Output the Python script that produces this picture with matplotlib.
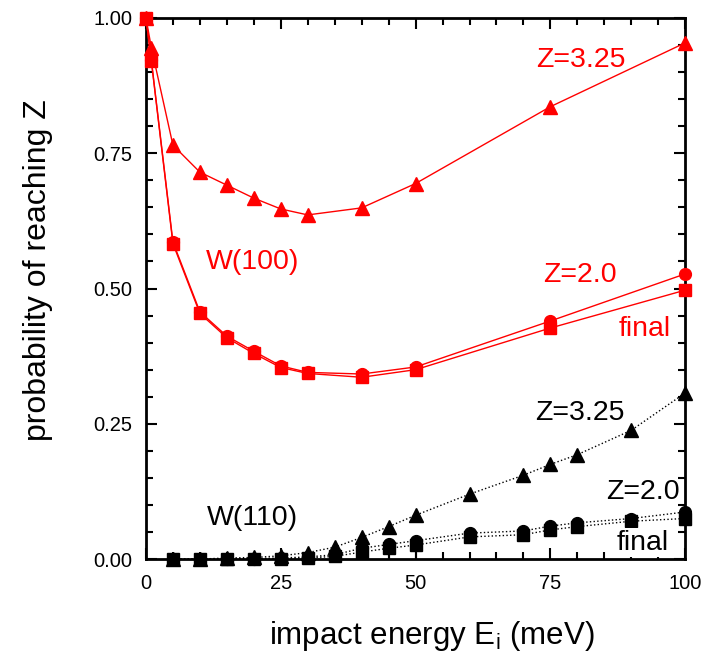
import numpy as np
import matplotlib.pyplot as plt
from matplotlib.ticker import MultipleLocator

plt.rcParams['font.family'] = ['Liberation Sans', 'DejaVu Sans']

# W(100) data
e100 = [0, 1, 5, 10, 15, 20, 25, 30, 40, 50, 75, 100]
w100_z325 = [1.0, 0.945, 0.765, 0.715, 0.691, 0.667, 0.647, 0.636, 0.649, 0.694, 0.836, 0.954]
w100_z20 = [1.0, 0.922, 0.586, 0.457, 0.412, 0.384, 0.357, 0.345, 0.342, 0.355, 0.440, 0.527]
w100_final = [1.0, 0.920, 0.583, 0.454, 0.409, 0.380, 0.354, 0.343, 0.336, 0.350, 0.427, 0.497]

# W(110) data
e110 = [5, 10, 15, 20, 25, 30, 35, 40, 45, 50, 60, 70, 75, 80, 90, 100]
w110_z325 = [0.0, 0.0, 0.002, 0.003, 0.006, 0.012, 0.022, 0.040, 0.060, 0.081, 0.120, 0.155, 0.175, 0.193, 0.238, 0.307]
w110_z20 = [0.0, 0.0, 0.0, 0.001, 0.002, 0.004, 0.008, 0.020, 0.027, 0.034, 0.048, 0.052, 0.061, 0.067, 0.075, 0.087]
w110_final = [0.0, 0.0, 0.0, 0.0, 0.001, 0.002, 0.005, 0.013, 0.020, 0.026, 0.041, 0.045, 0.054, 0.060, 0.070, 0.075]
# lower error bars seen on a few W(110) points
err_e = [45, 50]
err_val = [0.020, 0.026]
err_lo = [0.020, 0.026]

fig = plt.figure(figsize=(7.19, 6.64), dpi=100)
ax = fig.add_axes([0.203, 0.158, 0.750, 0.815])

red = '#ff0000'
ax.plot(e100, w100_final, color=red, lw=1, marker='s', ms=8.5, clip_on=False, zorder=3)
ax.plot(e100, w100_z20, color=red, lw=1, marker='o', ms=8.5, clip_on=False, zorder=3)
ax.plot(e100, w100_z325, color=red, lw=1, marker='^', ms=10, clip_on=False, zorder=3)

ax.errorbar(err_e, err_val, yerr=[err_lo, [0, 0]], fmt='none', ecolor='black', elinewidth=1.5, capsize=0, zorder=2)
ax.plot(e110, w110_final, color='black', lw=1, ls=':', marker='s', ms=8.5, clip_on=False, zorder=3)
ax.plot(e110, w110_z20, color='black', lw=1, ls=':', marker='o', ms=8.5, clip_on=False, zorder=3)
ax.plot(e110, w110_z325, color='black', lw=1, ls=':', marker='^', ms=10.5, clip_on=False, zorder=3)

ax.set_xlim(0, 100)
ax.set_ylim(0, 1)
ax.xaxis.set_major_locator(MultipleLocator(25))
ax.xaxis.set_minor_locator(MultipleLocator(5))
ax.yaxis.set_major_locator(MultipleLocator(0.25))
ax.yaxis.set_minor_locator(MultipleLocator(0.05))
ax.yaxis.set_major_formatter(plt.FormatStrFormatter('%.2f'))
ax.tick_params(which='both', direction='in', top=True, right=True, width=1.5, labelsize=14.5)
ax.tick_params(axis='y', pad=10)
ax.tick_params(axis='x', pad=11)
ax.tick_params(which='major', length=8)
ax.tick_params(which='minor', length=5)
for s in ax.spines.values():
    s.set_linewidth(2)

ax.set_xlabel('impact energy E$_\\mathregular{i}$ (meV)', fontsize=22.5)
ax.set_ylabel('probability of reaching Z', fontsize=23)
ax.xaxis.set_label_coords(0.531, -0.11)
ax.yaxis.set_label_coords(-0.172, 0.534)

# annotations
fs = 20.5
ax.text(80.7, 0.922, 'Z=3.25', color=red, fontsize=fs, ha='center', va='center')
ax.text(80.5, 0.525, 'Z=2.0', color=red, fontsize=fs, ha='center', va='center')
ax.text(92.4, 0.425, 'final', color=red, fontsize=fs, ha='center', va='center')
ax.text(19.7, 0.549, 'W(100)', color=red, fontsize=fs, ha='center', va='center')
ax.text(80.5, 0.27, 'Z=3.25', color='black', fontsize=fs, ha='center', va='center')
ax.text(92.2, 0.124, 'Z=2.0', color='black', fontsize=fs, ha='center', va='center')
ax.text(92.2, 0.03, 'final', color='black', fontsize=fs, ha='center', va='center',
        bbox=dict(facecolor='white', edgecolor='none', pad=1), zorder=4)
ax.text(19.7, 0.076, 'W(110)', color='black', fontsize=fs, ha='center', va='center')

fig.savefig('out.png', dpi=100)
